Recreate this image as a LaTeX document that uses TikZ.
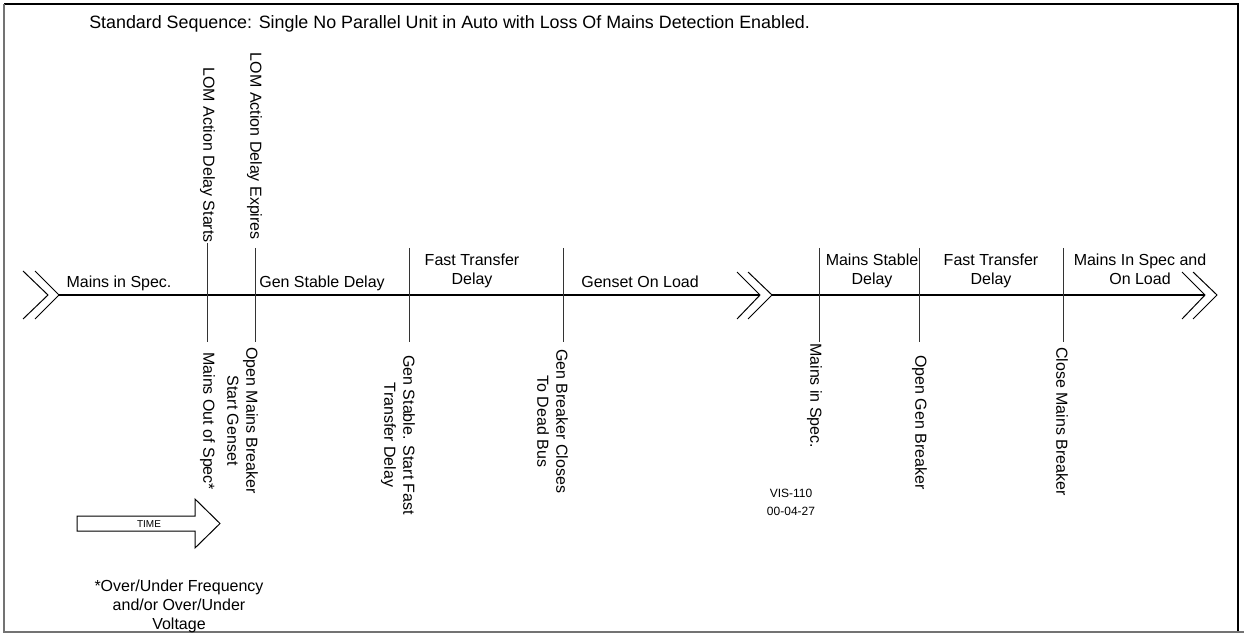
\documentclass[tikz,border=0pt]{standalone}
\usepackage{fontspec}
\setmainfont{Liberation Sans}
\begin{document}
\begin{tikzpicture}[x=0.75pt,y=-0.75pt,
  lbl/.style={font=\fontsize{12}{14.25}\selectfont, inner sep=0pt, align=center},
  small/.style={font=\fontsize{7.5}{9}\selectfont, inner sep=0pt, align=center},
  vis/.style={font=\fontsize{9}{13.5}\selectfont, inner sep=0pt, align=center},
  evline/.style={draw=black!80, line width=0.75pt},
  axisline/.style={draw=black, line width=1.1pt},
  brk/.style={draw=black, line width=0.75pt},
  framegray/.style={draw=black!55, line width=1.2pt},
  frameblack/.style={draw=black, line width=1.2pt}]
\useasboundingbox (0,0) rectangle (1244,634);
% frame
\coordinate (fTL) at (4,4);
\coordinate (fTR) at (1238,4);
\coordinate (fBL) at (4,632);
\coordinate (fBR) at (1238,632);
\draw[frameblack] (fTL) -- (fTR) -- (fBR);
\draw[framegray] (fTL) -- (fBL) -- (1244,632);
% title
\node[lbl, anchor=base west, font=\fontsize{13.4}{16}\selectfont] (title) at (89,28.5) {Standard Sequence: Single No Parallel Unit in Auto with Loss Of Mains Detection Enabled.};
% break chevrons and axis
\coordinate (b1a) at (48,295); \coordinate (b1b) at (59,295);
\coordinate (b2a) at (760,295); \coordinate (b2b) at (772,295);
\coordinate (b3a) at (1205,295); \coordinate (b3b) at (1217,295);
\draw[brk] (23,271) -- (b1a) -- (23,319);
\draw[brk] (35,271) -- (b1b) -- (35,319);
\draw[brk] (737,272) -- (b2a) -- (737,319);
\draw[brk] (748,272) -- (b2b) -- (748,319);
\draw[brk] (1182,272) -- (b3a) -- (1182,319);
\draw[brk] (1193,272) -- (b3b) -- (1193,319);
\draw[axisline] (b1b) -- (b2a);
\draw[axisline] (b2b) -- (b3a);
% event lines
\coordinate (e1t) at (207,243); \coordinate (e1b) at (207,342);
\coordinate (e2t) at (255,248); \coordinate (e2b) at (255,342);
\coordinate (e3t) at (409,248); \coordinate (e3b) at (409,342);
\coordinate (e4t) at (563,248); \coordinate (e4b) at (563,342);
\coordinate (e5t) at (819,248); \coordinate (e5b) at (819,342);
\coordinate (e6t) at (919,248); \coordinate (e6b) at (919,342);
\coordinate (e7t) at (1063,248); \coordinate (e7b) at (1063,342);
\foreach \i in {1,...,7} {\draw[evline] (e\i t) -- (e\i b);}
% upper rotated labels
\node[lbl, rotate=-90, anchor=north east] (u1) at (217,243) {\strut LOM Action Delay Starts};
\node[lbl, rotate=-90, anchor=north east] (u2) at (264,240) {\strut LOM Action Delay Expires};
% lower rotated labels
\node[lbl, rotate=-90, anchor=north west] (d1) at (217,352) {\strut Mains Out of Spec*};
\node[lbl, rotate=-90, anchor=north west] (d2) at (260,347) {\strut Open Mains Breaker\\Start Genset};
\node[lbl, rotate=-90, anchor=north west] (d3) at (417,355) {\strut Gen Stable. Start Fast\\Transfer Delay};
\node[lbl, rotate=-90, anchor=north west] (d4) at (570,349) {\strut Gen Breaker Closes\\To Dead Bus};
\node[lbl, rotate=-90, anchor=north west] (d5) at (824,343) {\strut Mains in Spec.};
\node[lbl, rotate=-90, anchor=north west] (d6) at (929,355) {\strut Open Gen Breaker};
\node[lbl, rotate=-90, anchor=north west] (d7) at (1070,347) {\strut Close Mains Breaker};
% interval labels
\node[lbl, anchor=base] (s1) at (119,287) {Mains in Spec.};
\node[lbl, anchor=base] (s2) at (322,287) {Gen Stable Delay};
\node[lbl, anchor=south] (s3) at (472,290.7) {Fast Transfer\\Delay\strut};
\node[lbl, anchor=base] (s4) at (640,287) {Genset On Load};
\node[lbl, anchor=south] (s5) at (872,290.7) {Mains Stable\\Delay\strut};
\node[lbl, anchor=south] (s6) at (991,290.7) {Fast Transfer\\Delay\strut};
\node[lbl, anchor=south] (s7) at (1140,290.7) {Mains In Spec and\\On Load\strut};
% time arrow
\draw[draw=black, line width=0.75pt, fill=white] (77,516) -- (195,516) -- (195,499) -- (220,523.5) -- (195,548) -- (195,531) -- (77,531) -- cycle;
\node[small] (time) at (149,524) {TIME};
% footnote
\node[lbl, anchor=north, font=\fontsize{12}{14}\selectfont] (foot) at (179,578.5) {\strut *Over/Under Frequency\\and/or Over/Under\\Voltage};
% drawing id
\node[vis, anchor=north] (visid) at (791,485) {\strut VIS-110\\00-04-27};
\end{tikzpicture}
\end{document}
